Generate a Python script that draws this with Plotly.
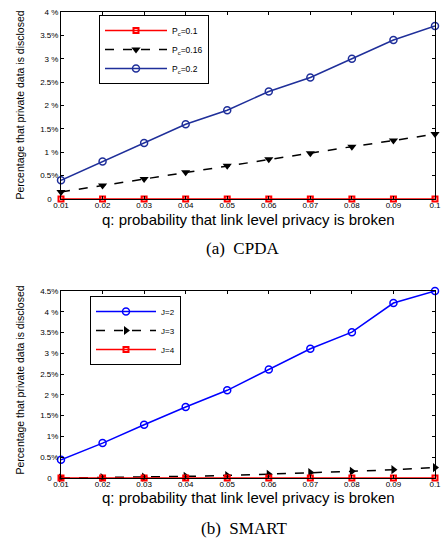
import plotly.graph_objects as go

q = [0.01, 0.02, 0.03, 0.04, 0.05, 0.06, 0.07, 0.08, 0.09, 0.1]
q_ticks = ["0.01", "0.02", "0.03", "0.04", "0.05", "0.06", "0.07", "0.08", "0.09", "0.1"]

# (a) CPDA
cpda_pc01 = [0, 0, 0, 0, 0, 0, 0, 0, 0, 0]
cpda_pc016 = [0.15, 0.29, 0.43, 0.57, 0.71, 0.85, 0.98, 1.12, 1.25, 1.39]
cpda_pc02 = [0.4, 0.8, 1.2, 1.6, 1.9, 2.3, 2.6, 3.0, 3.4, 3.7]
cpda_yticks = [0, 0.5, 1, 1.5, 2, 2.5, 3, 3.5, 4]
cpda_yticktext = ["0\u00a0\u00a0\u00a0", "0.5%", "1 %", "1.5%", "2 %", "2.5%", "3 %", "3.5%", "4 %"]

# (b) SMART
smart_j2 = [0.44, 0.84, 1.28, 1.71, 2.11, 2.61, 3.11, 3.51, 4.21, 4.5]
smart_j3 = [0.0, 0.01, 0.02, 0.04, 0.06, 0.09, 0.13, 0.16, 0.2, 0.25]
smart_j4 = [0, 0, 0, 0, 0, 0, 0, 0, 0, 0]
smart_yticks = [0, 0.5, 1, 1.5, 2, 2.5, 3, 3.5, 4, 4.5]
smart_yticktext = ["0\u00a0\u00a0\u00a0", "0.5%", "1%", "1.5%", "2 %", "2.5%", "3 %", "3.5%", "4 %", "4.5%"]

x_title = "q: probability that link level privacy is broken"
y_title = "Percentage that private data is disclosed"
captions = ["(a)  CPDA", "(b)  SMART"]

W, H = 441, 539
FONT = "Liberation Sans, Arial, sans-serif"
SERIF = "Liberation Serif, Times New Roman, serif"

fig = go.Figure()

# top plot traces
fig.add_trace(go.Scatter(x=q, y=cpda_pc01, name="P<sub>c</sub>=0.1", mode="lines+markers",
                         line=dict(color="#ff0000", width=1.5),
                         marker=dict(symbol="square-open", size=5, color="#ff0000", line=dict(width=2)),
                         xaxis="x", yaxis="y", legend="legend", cliponaxis=False))
fig.add_trace(go.Scatter(x=q, y=cpda_pc016, name="P<sub>c</sub>=0.16", mode="lines+markers",
                         line=dict(color="#000000", width=1.5, dash="dash"),
                         marker=dict(symbol="triangle-down", size=8, color="#000000"),
                         xaxis="x", yaxis="y", legend="legend", cliponaxis=False))
fig.add_trace(go.Scatter(x=q, y=cpda_pc02, name="P<sub>c</sub>=0.2", mode="lines+markers",
                         line=dict(color="#1f2f9a", width=1.5),
                         marker=dict(symbol="circle-open", size=7, color="#1f2f9a", line=dict(width=1.5)),
                         xaxis="x", yaxis="y", legend="legend", cliponaxis=False))

# bottom plot traces
fig.add_trace(go.Scatter(x=q, y=smart_j2, name="J=2", mode="lines+markers",
                         line=dict(color="#0000ff", width=1.5),
                         marker=dict(symbol="circle-open", size=7, color="#0000ff", line=dict(width=1.5)),
                         xaxis="x2", yaxis="y2", legend="legend2", cliponaxis=False))
fig.add_trace(go.Scatter(x=q, y=smart_j3, name="J=3", mode="lines+markers",
                         line=dict(color="#000000", width=1.5, dash="dash"),
                         marker=dict(symbol="triangle-right", size=8, color="#000000"),
                         xaxis="x2", yaxis="y2", legend="legend2", cliponaxis=False))
fig.add_trace(go.Scatter(x=q, y=smart_j4, name="J=4", mode="lines+markers",
                         line=dict(color="#ff0000", width=1.5),
                         marker=dict(symbol="square-open", size=5, color="#ff0000", line=dict(width=2)),
                         xaxis="x2", yaxis="y2", legend="legend2", cliponaxis=False))

xdom = [61 / W, 435 / W]
ydom_top = [1 - 199 / H, 1 - 12 / H]
ydom_bot = [1 - 478 / H, 1 - 291 / H]

xaxis_common = dict(range=[0.01, 0.1], tickvals=q, ticktext=q_ticks, showline=True, mirror="ticks",
                    linecolor="black", linewidth=1, ticks="inside", ticklen=3, tickcolor="black",
                    showgrid=False, zeroline=False, automargin=False, ticklabeloverflow="allow",
                    ticklabelstandoff=-2,
                    tickfont=dict(size=8, family=FONT, color="black"))
yaxis_common = dict(showline=True, mirror="ticks", linecolor="black", linewidth=1, ticks="inside",
                    ticklen=3, tickcolor="black", showgrid=False, zeroline=False, automargin=False,
                    ticklabeloverflow="allow",
                    tickfont=dict(size=8, family=FONT, color="black"))

title_font = dict(size=15, family=FONT, color="black")
ytitle_font = dict(size=10.5, family=FONT, color="black")
cap_font = dict(size=17, family=SERIF, color="black")


def ann(text, px, py, font, angle=0):
    return dict(text=text, x=px / W, y=1 - py / H, xref="paper", yref="paper",
                xanchor="center", yanchor="middle", textangle=angle,
                showarrow=False, font=font)


fig.update_layout(
    width=W, height=H, margin=dict(l=0, r=0, t=0, b=0, pad=0), autosize=False,
    paper_bgcolor="white", plot_bgcolor="white",
    xaxis=dict(domain=xdom, anchor="y", **xaxis_common),
    yaxis=dict(domain=ydom_top, anchor="x", range=[0, 4], tickvals=cpda_yticks,
               ticktext=cpda_yticktext, **yaxis_common),
    xaxis2=dict(domain=xdom, anchor="y2", **xaxis_common),
    yaxis2=dict(domain=ydom_bot, anchor="x2", range=[0, 4.5], tickvals=smart_yticks,
                ticktext=smart_yticktext, **yaxis_common),
    legend=dict(x=99 / W, y=1 - 15 / H, xanchor="left", yanchor="top", bgcolor="white",
                bordercolor="black", borderwidth=1, font=dict(size=8.5, family=FONT, color="black"),
                itemwidth=62, tracegroupgap=0),
    legend2=dict(x=90 / W, y=1 - 296 / H, xanchor="left", yanchor="top", bgcolor="white",
                 bordercolor="black", borderwidth=1, font=dict(size=8, family=FONT, color="black"),
                 itemwidth=60, tracegroupgap=0),
    annotations=[
        ann(x_title, 248, 219.5, title_font),
        ann(x_title, 248, 497, title_font),
        ann(y_title, 19.5, 105, ytitle_font, -90),
        ann(y_title, 19.5, 380, ytitle_font, -90),
        ann(captions[0], 243, 249, cap_font),
        ann(captions[1], 244, 528, cap_font),
    ],
)

fig.write_html("out.html", config={"displayModeBar": False},
               post_script="document.body.style.margin='0';document.body.style.padding='0';")
